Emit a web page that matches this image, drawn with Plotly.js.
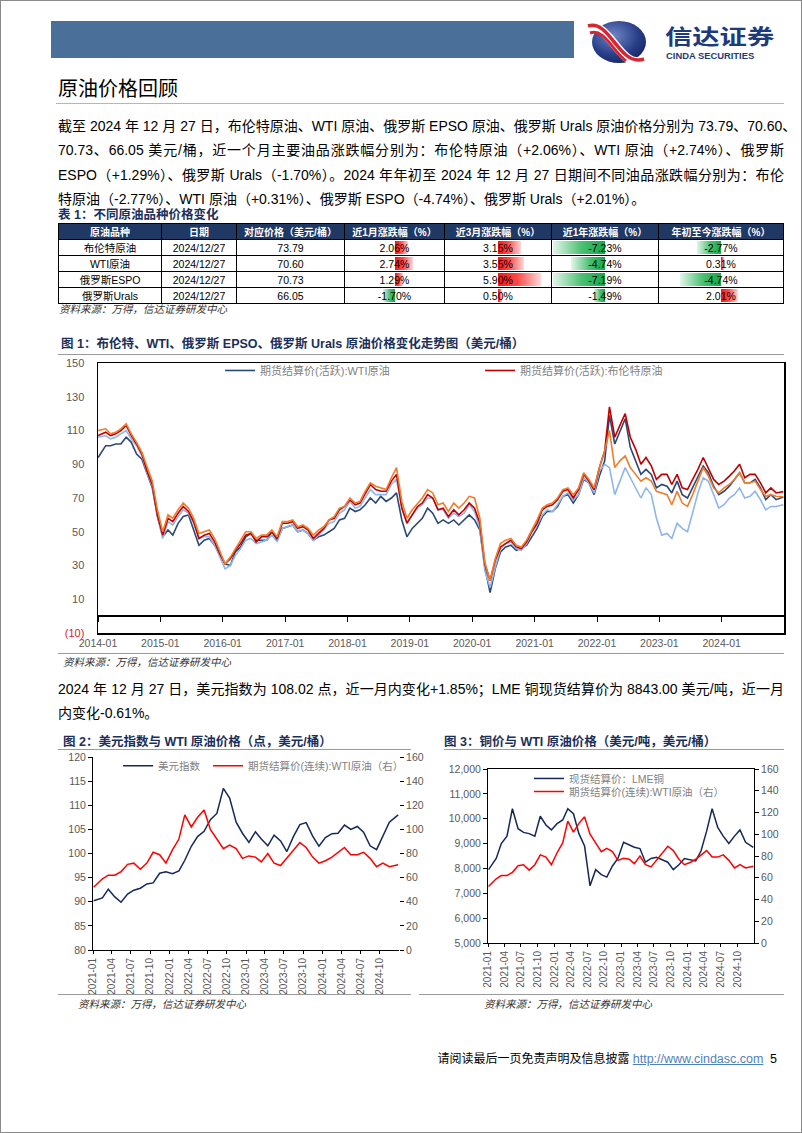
<!DOCTYPE html>
<html><head><meta charset="utf-8">
<script src="https://cdn.plot.ly/plotly-3.0.1.min.js"></script>
<style>
body{margin:0;background:#fff;}
#page{position:relative;width:802px;height:1133px;box-sizing:border-box;border:1px solid #8a8a8a;overflow:hidden;font-family:"Liberation Sans","Noto Sans CJK SC",sans-serif;color:#000;background:#fff;}
.abs{position:absolute;}
.para{position:absolute;left:57px;width:726px;font-size:14px;line-height:20px;white-space:nowrap;text-align:justify;text-align-last:justify;}
.para.last{text-align:left;text-align-last:left;}
.ttl{position:absolute;font-size:12.5px;font-weight:bold;color:#1a2f5a;white-space:nowrap;line-height:16px;}
.src{position:absolute;font-size:10.5px;font-style:italic;color:#333;white-space:nowrap;line-height:14px;font-family:"Noto Sans CJK SC",sans-serif;}
.hl{position:absolute;height:0;border-top:1px solid #9a9a9a;}
#tbl{position:absolute;left:57px;top:222px;border-collapse:collapse;font-size:10.5px;table-layout:fixed;}
#tbl td,#tbl th{border:1px solid #000;padding:0;height:14.5px;text-align:center;position:relative;overflow:hidden;white-space:nowrap;}
#tbl th{background:#1f3864;color:#fff;font-weight:bold;font-size:10px;height:14px;}
.bar{position:absolute;top:1px;bottom:1px;}
.cv{position:relative;z-index:2;}
.chart{position:absolute;}
</style></head>
<body>
<div id="page">
  <div class="abs" style="left:50px;top:20px;width:523px;height:37px;background:#4a6f98;"></div>
  <svg class="abs" style="left:585px;top:18px;" width="62" height="46" viewBox="0 0 62 46">
    <defs>
      <radialGradient id="sph" cx="0.4" cy="0.35" r="0.75">
        <stop offset="0" stop-color="#6f86c4"/><stop offset="0.6" stop-color="#2a3f8a"/><stop offset="1" stop-color="#14205a"/>
      </radialGradient>
    </defs>
    <ellipse cx="33" cy="23" rx="27" ry="21" fill="url(#sph)"/>
    <path d="M2,9 C18,4 26,26 40,38 C46,43 52,44 58,42" stroke="#fff" stroke-width="9" fill="none"/>
    <path d="M2,7 C18,2 26,24 40,36 C46,41 52,42 58,40" stroke="#d9252f" stroke-width="3.5" fill="none"/>
    <path d="M4,14 C18,9 26,31 40,42" stroke="#d9252f" stroke-width="3" fill="none"/>
  </svg>
  <div class="abs" style="left:664px;top:19px;font-size:21px;font-weight:bold;color:#1d3a7a;font-family:'Noto Sans CJK SC';line-height:30px;height:30px;transform:scaleX(1.3);transform-origin:0 0;white-space:nowrap;">信达证券</div>
  <div class="abs" style="left:665px;top:50px;font-size:9.4px;font-weight:bold;color:#1d3a7a;line-height:9px;white-space:nowrap;">CINDA SECURITIES</div>

  <div class="abs" style="left:57px;top:74px;font-size:20px;line-height:26px;font-family:'Noto Sans CJK SC';">原油价格回顾</div>
  <div class="hl" style="left:55px;top:102px;width:728px;border-top:1.5px solid #a9b8cc;"></div>

  <div class="para" style="top:115px;">截至 2024 年 12 月 27 日，布伦特原油、WTI 原油、俄罗斯 EPSO 原油、俄罗斯 Urals 原油价格分别为 73.79、70.60、</div>
  <div class="para" style="top:139px;">70.73、66.05 美元/桶，近一个月主要油品涨跌幅分别为：布伦特原油（+2.06%）、WTI 原油（+2.74%）、俄罗斯</div>
  <div class="para" style="top:164px;">ESPO（+1.29%）、俄罗斯 Urals（-1.70%）。2024 年年初至 2024 年 12 月 27 日期间不同油品涨跌幅分别为：布伦</div>
  <div class="para last" style="top:188px;">特原油（-2.77%）、WTI 原油（+0.31%）、俄罗斯 ESPO（-4.74%）、俄罗斯 Urals（+2.01%）。</div>

  <div class="ttl" style="left:57px;top:206px;">表 1：不同原油品种价格变化</div>
  <table id="tbl"></table>
  <div class="src" style="left:58px;top:301px;">资料来源：万得，信达证券研发中心</div>

  <div class="ttl" style="left:60px;top:335px;">图 1：布伦特、WTI、俄罗斯 EPSO、俄罗斯 Urals 原油价格变化走势图（美元/桶）</div>
  <div class="hl" style="left:57px;top:353px;width:726px;"></div>
  <div id="c1" class="chart" style="left:0px;top:352px;width:802px;height:300px;"></div>
  <div class="hl" style="left:57px;top:652px;width:726px;"></div>
  <div class="src" style="left:62px;top:654px;">资料来源：万得，信达证券研发中心</div>

  <div class="para" style="top:678px;">2024 年 12 月 27 日，美元指数为 108.02 点，近一月内变化+1.85%；LME 铜现货结算价为 8843.00 美元/吨，近一月</div>
  <div class="para last" style="top:702px;">内变化-0.61%。</div>

  <div class="ttl" style="left:62px;top:733px;">图 2：美元指数与 WTI 原油价格（点，美元/桶）</div>
  <div class="ttl" style="left:443px;top:733px;">图 3：铜价与 WTI 原油价格（美元/吨，美元/桶）</div>
  <div class="hl" style="left:57px;top:748px;width:353px;"></div>
  <div class="hl" style="left:443px;top:748px;width:340px;"></div>
  <div id="c2" class="chart" style="left:30px;top:745px;width:400px;height:275px;"></div>
  <div id="c3" class="chart" style="left:420px;top:745px;width:382px;height:275px;"></div>
  <div class="hl" style="left:57px;top:993px;width:353px;"></div>
  <div class="hl" style="left:418px;top:993px;width:365px;"></div>
  <div class="src" style="left:77px;top:996px;">资料来源：万得，信达证券研发中心</div>
  <div class="src" style="left:483px;top:996px;">资料来源：万得，信达证券研发中心</div>

  <div class="abs" style="right:24px;top:1048px;white-space:nowrap;font-size:12px;line-height:18px;">
    <span style="font-family:'Noto Sans CJK SC';">请阅读最后一页免责声明及信息披露</span>
    <span style="color:#4f81bd;text-decoration:underline;font-size:12.5px;">http://www.cindasc.com</span>&nbsp;
    <span style="font-size:12.5px;">5</span>
  </div>
</div>
<script>
// ---------------- Table 1 data ----------------
const tblHeaders = ['原油品种','日期','对应价格（美元/桶）','近1月涨跌幅（%）','近3月涨跌幅（%）','近1年涨跌幅（%）','年初至今涨跌幅（%）'];
const tblNames = ['布伦特原油','WTI原油','俄罗斯ESPO','俄罗斯Urals'];
const tblDates = ['2024/12/27','2024/12/27','2024/12/27','2024/12/27'];
const tblPrice = [73.79, 70.60, 70.73, 66.05];
const chg1m = [2.06, 2.74, 1.29, -1.70];
const chg3m = [3.15, 3.55, 5.90, 0.50];
const chg1y = [-7.23, -4.74, -7.19, -1.49];
const chgYtd = [-2.77, 0.31, -4.74, 2.01];

// ---------------- Figure 1 data (monthly, 2014-01 .. 2024-12) ----------------
const wti = [
 94,101,101,102,102,106,103,96,93,84,76,59,
 47,51,48,55,59,60,51,42,45,46,42,37,
 31,30,38,41,47,49,45,45,45,50,45,52,
 53,54,50,51,49,45,47,48,50,52,57,58,
 64,62,63,66,70,67,71,68,70,73,57,47,
 52,55,58,64,61,55,57,55,57,54,57,60,
 57,51,29,14,28,38,41,42,39,40,42,47,
 52,59,62,62,65,71,72,67,72,81,79,72,
 83,92,119,102,110,117,100,92,84,87,84,76,
 78,77,73,80,72,70,76,82,89,85,77,72,
 74,77,81,85,79,79,81,76,69,72,69,70.60];
const brent = [
 107,109,107,108,110,113,107,102,96,86,78,60,
 48,58,56,61,65,62,56,46,48,49,44,37,
 31,34,39,43,48,49,44,47,47,50,46,55,
 55,56,52,53,51,46,49,52,57,58,63,65,
 69,66,67,73,78,75,74,74,80,84,64,55,
 60,65,67,72,70,63,64,59,63,60,63,67,
 64,55,31,21,33,41,43,45,41,40,44,50,
 55,63,65,66,69,74,75,70,75,84,80,75,
 88,98,124,106,113,120,106,99,90,94,89,81,
 84,84,78,84,76,75,81,87,94,88,81,78,
 80,83,86,90,82,84,84,79,73,76,73,73.79];
const espo = [
 110,111,108,109,111,114,108,103,97,88,80,63,
 50,60,58,63,67,64,58,49,50,51,46,39,
 31,35,40,45,50,50,46,48,48,51,47,56,
 56,57,53,54,52,48,51,53,57,59,64,65,
 70,67,68,74,79,77,76,75,82,88,68,58,
 63,67,70,75,73,66,67,62,67,64,67,71,
 70,58,32,21,34,43,45,46,42,41,45,51,
 57,64,66,67,70,75,76,72,76,85,81,76,
 88,98,110,88,92,95,88,84,80,82,80,74,
 73,72,66,74,67,65,72,80,88,83,76,73,
 76,78,81,85,79,79,80,75,71,72,71,70.73];
const urals = [
 106,107,105,106,108,110,105,101,95,85,77,60,
 46,56,54,59,63,61,55,46,47,47,42,35,
 28,30,36,40,45,46,43,44,45,48,44,52,
 53,54,50,51,49,45,48,51,55,56,61,63,
 68,64,65,70,75,72,72,72,78,81,64,56,
 60,64,66,70,70,63,63,58,61,59,61,66,
 62,52,27,17,29,40,43,44,40,39,43,50,
 54,60,63,62,66,71,73,69,72,82,79,73,
 86,90,88,72,80,88,82,76,70,76,72,58,
 48,49,46,55,52,50,62,73,82,80,72,64,
 66,70,72,76,70,71,74,69,63,65,65,66.05];
const fig1YTickVals = [-10,10,30,50,70,90,110,130,150];
const fig1YTickText = ['<span style="color:#e0191f">(10)</span>','10','30','50','70','90','110','130','150'];

// ---------------- Figure 2 / 3 data (monthly, 2021-01 .. 2024-12) ----------------
const dxy = [
 90.2,90.8,92.6,91.0,89.9,91.6,92.4,92.8,93.7,93.9,95.9,96.2,
 95.8,96.4,98.6,101.5,103.5,104.6,107.0,108.3,113.5,111.5,106.5,104.2,
 102.3,104.5,103.0,101.6,103.8,102.6,100.4,103.5,106.0,106.4,103.6,101.5,
 103.3,104.1,104.2,105.9,105.0,105.6,104.4,101.6,100.8,103.6,106.5,108.0];
const wtiCont = [
 52,59,62,62,65,71,72,67,72,81,79,72,
 83,92,112,102,110,116,100,92,84,87,84,76,
 78,77,73,80,72,70,76,82,89,85,77,72,
 74,77,81,85,79,79,81,76,69,72,69,70.6];
const copper = [
 7950,8400,9000,9300,10400,9600,9450,9400,9300,10100,9750,9550,
 9800,9950,10400,10200,9400,8900,7300,7950,7750,7650,8100,8400,
 9050,8950,8850,8800,8250,8400,8450,8350,8250,7950,8150,8400,
 8350,8300,8700,9500,10400,9650,9300,9000,9300,9550,9050,8843];

// month positions (x categories)
function monthDates(y0, n, firstDay, lastDay){
  const out=[];
  for(let i=0;i<n;i++){const y=y0+Math.floor(i/12), m=i%12+1; out.push(y+'-'+String(m).padStart(2,'0')+'-15');}
  out[0]=y0+'-01-'+firstDay; out[n-1]=out[n-1].slice(0,8)+lastDay; return out;
}
const d1 = monthDates(2014,132,'02','27');
const d2 = monthDates(2021,48,'04','27');

// ---------------- build table ----------------
(function(){
  const t=document.getElementById('tbl');
  const widths=[103,75,108,100,107,107,125];
  const cg=document.createElement('colgroup');
  widths.forEach(w=>{const c=document.createElement('col');c.style.width=w+'px';cg.appendChild(c);});
  t.appendChild(cg);
  const hr=document.createElement('tr');
  tblHeaders.forEach(h=>{const th=document.createElement('th');th.textContent=h;hr.appendChild(th);});
  t.appendChild(hr);
  const chgCols=[chg1m,chg3m,chg1y,chgYtd];
  const pxPerPct=[6.6,7.3,7.2,8.7];
  for(let r=0;r<tblNames.length;r++){
    const tr=document.createElement('tr');
    [tblNames[r],tblDates[r],tblPrice[r].toFixed(2)].forEach(v=>{const td=document.createElement('td');td.textContent=v;tr.appendChild(td);});
    chgCols.forEach((col,ci)=>{
      const td=document.createElement('td');
      const v=col[r];
      const b=document.createElement('div');b.className='bar';
      const w=Math.abs(v)*pxPerPct[ci];
      if(v>=0){b.style.left='50%';b.style.width=w+'px';b.style.background='linear-gradient(to right,#ff1010 0%,#ff4a4a 45%,#ffd9d9 100%)';}
      else{b.style.right='50%';b.style.width=w+'px';b.style.background='linear-gradient(to left,#10a84a 0%,#4cc073 45%,#e3f6ea 100%)';}
      td.appendChild(b);
      const s=document.createElement('span');s.className='cv';s.textContent=v.toFixed(2)+'%';td.appendChild(s);
      tr.appendChild(td);
    });
    t.appendChild(tr);
  }
})();

const FONT='Liberation Sans, Noto Sans CJK SC, sans-serif';
const GRAY='#595959';
const cfg={staticPlot:true,displayModeBar:false};

// ---------------- Figure 1 ----------------
Plotly.newPlot('c1',[
  {x:d1,y:wti,type:'scatter',mode:'lines',name:'期货结算价(活跃):WTI原油',line:{color:'#2c4877',width:1.6},legend:'legend'},
  {x:d1,y:urals,type:'scatter',mode:'lines',name:'俄罗斯Urals',line:{color:'#8fb6ea',width:1.6},showlegend:false},
  {x:d1,y:brent,type:'scatter',mode:'lines',name:'期货结算价(活跃):布伦特原油',line:{color:'#c00000',width:1.6},legend:'legend2'},
  {x:d1,y:espo,type:'scatter',mode:'lines',name:'俄罗斯ESPO',line:{color:'#f07c2a',width:1.6},showlegend:false},
  {x:[],y:[],xaxis:'x2',type:'scatter',mode:'lines',showlegend:false}
],{
  width:802,height:300,margin:{l:97,r:19,t:10,b:20,autoexpand:false},
  paper_bgcolor:'rgba(0,0,0,0)',plot_bgcolor:'#fff',
  font:{family:FONT,color:GRAY,size:11},
  showlegend:true,
  legend:{x:0.178,y:1.026,xanchor:'left',yanchor:'top',bgcolor:'rgba(0,0,0,0)',font:{size:11,color:'#7f7f7f'}},
  legend2:{x:0.557,y:1.026,xanchor:'left',yanchor:'top',bgcolor:'rgba(0,0,0,0)',font:{size:11,color:'#7f7f7f'}},
  xaxis:{type:'date',range:['2014-01-01','2024-12-31'],tick0:'2014-01-01',dtick:'M12',tickformat:'%Y-%m',
    showgrid:false,zeroline:false,showline:true,mirror:true,linecolor:'#000',linewidth:1.5,ticks:'',
    tickfont:{size:10.5,color:GRAY}},
  xaxis2:{type:'date',overlaying:'x',anchor:'free',position:10/160,range:['2014-01-01','2024-12-31'],tick0:'2014-01-01',dtick:'M12',
    showgrid:false,zeroline:false,showline:false,ticks:'outside',ticklen:5,tickcolor:'#000',tickwidth:1,showticklabels:false},
  yaxis:{range:[-10,150],tickvals:fig1YTickVals,ticktext:fig1YTickText,showgrid:false,zeroline:true,zerolinecolor:'#000',zerolinewidth:1.5,
    showline:true,mirror:true,linecolor:'#000',linewidth:1.5,ticks:'',ticklabelstandoff:10,tickfont:{size:11,color:GRAY}}
},cfg);

// ---------------- Figure 2 ----------------
Plotly.newPlot('c2',[
  {x:d2,y:dxy,type:'scatter',mode:'lines',name:'美元指数',line:{color:'#14295a',width:1.5},legend:'legend'},
  {x:d2,y:wtiCont,type:'scatter',mode:'lines',name:'期货结算价(连续):WTI原油（右）',yaxis:'y2',line:{color:'#ff0000',width:1.5},legend:'legend2'}
],{
  width:400,height:275,margin:{l:62,r:32,t:11,b:71,autoexpand:false},
  paper_bgcolor:'rgba(0,0,0,0)',plot_bgcolor:'rgba(0,0,0,0)',
  font:{family:FONT,color:GRAY,size:10.5},
  showlegend:true,
  legend:{x:0.082,y:1.03,xanchor:'left',yanchor:'top',bgcolor:'rgba(0,0,0,0)',font:{size:10.5,color:'#7f7f7f'}},
  legend2:{x:0.376,y:1.03,xanchor:'left',yanchor:'top',bgcolor:'rgba(0,0,0,0)',font:{size:10.5,color:'#7f7f7f'}},
  xaxis:{type:'date',range:['2021-01-01','2024-12-31'],tick0:'2021-01-01',dtick:'M3',tickformat:'%Y-%m',tickangle:-90,
    showgrid:false,zeroline:false,showline:true,linecolor:'#000',linewidth:1,ticks:'outside',ticklen:3,tickcolor:'#000',tickfont:{size:10,color:GRAY}},
  yaxis:{range:[80,120],dtick:5,showgrid:false,zeroline:false,showline:true,linecolor:'#000',linewidth:1,ticks:'outside',ticklen:4,tickcolor:'#000',tickfont:{size:10.5,color:GRAY}},
  yaxis2:{range:[0,160],dtick:20,overlaying:'y',side:'right',showgrid:false,zeroline:false,showline:false,ticks:'outside',ticklen:4,tickcolor:'#000',tickfont:{size:10.5,color:GRAY}}
},cfg);

// ---------------- Figure 3 ----------------
Plotly.newPlot('c3',[
  {x:d2,y:copper,type:'scatter',mode:'lines',name:'现货结算价：LME铜',line:{color:'#14295a',width:1.5},legend:'legend'},
  {x:d2,y:wtiCont,type:'scatter',mode:'lines',name:'期货结算价(连续):WTI原油（右）',yaxis:'y2',line:{color:'#ff0000',width:1.5},legend:'legend2'}
],{
  width:382,height:275,margin:{l:67,r:49,t:23,b:78,autoexpand:false},
  paper_bgcolor:'rgba(0,0,0,0)',plot_bgcolor:'rgba(0,0,0,0)',
  font:{family:FONT,color:GRAY,size:10.5},
  showlegend:true,
  legend:{x:0.154,y:1.029,xanchor:'left',yanchor:'top',bgcolor:'rgba(0,0,0,0)',font:{size:10.5,color:'#7f7f7f'}},
  legend2:{x:0.154,y:0.954,xanchor:'left',yanchor:'top',bgcolor:'rgba(0,0,0,0)',font:{size:10.5,color:'#7f7f7f'}},
  xaxis:{type:'date',range:['2021-01-01','2024-12-31'],tick0:'2021-01-01',dtick:'M3',tickformat:'%Y-%m',tickangle:-90,
    showgrid:false,zeroline:false,showline:true,mirror:true,linecolor:'#000',linewidth:1,ticks:'outside',ticklen:3,tickcolor:'#000',tickfont:{size:10,color:GRAY}},
  yaxis:{range:[5000,12000],dtick:1000,tickformat:',',showgrid:false,zeroline:false,showline:true,linecolor:'#000',linewidth:1,ticks:'outside',ticklen:4,tickcolor:'#000',tickfont:{size:10.5,color:GRAY}},
  yaxis2:{range:[0,160],dtick:20,overlaying:'y',side:'right',showgrid:false,zeroline:false,showline:true,linecolor:'#000',linewidth:1,ticks:'outside',ticklen:4,tickcolor:'#000',tickfont:{size:10.5,color:GRAY}}
},cfg);
</script>
</body></html>
